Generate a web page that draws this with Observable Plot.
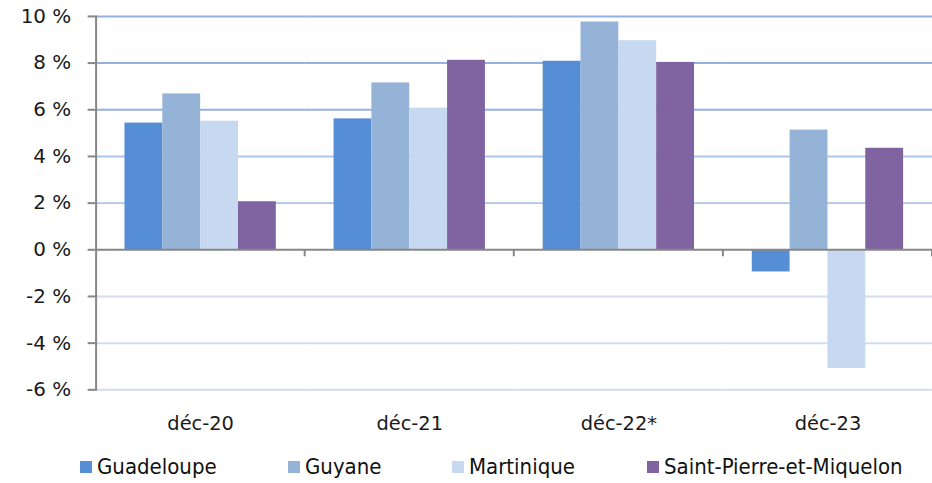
<!DOCTYPE html>
<html>
<head>
<meta charset="utf-8">
<script src="https://cdn.jsdelivr.net/npm/d3@7"></script>
<script src="https://cdn.jsdelivr.net/npm/@observablehq/plot@0.6"></script>
<style>
html, body { margin: 0; padding: 0; background: #fff; }
#wrap { position: relative; width: 932px; height: 483px; overflow: hidden; background: #fff; }
#chart { position: absolute; left: 0; top: 0; }
#legend { position: absolute; left: 0; top: 454px; width: 932px; height: 26px;
  font-family: "DejaVu Sans Condensed", "DejaVu Sans", sans-serif; font-size: 22px; color: #111; }
.item { position: absolute; top: 0; height: 26px; line-height: 26px; display: flex; align-items: center; white-space: nowrap; }
.sw { width: 12px; height: 12px; margin-right: 5px; flex: none; }
</style>
</head>
<body>
<div id="wrap"><div id="chart"></div><div id="legend"></div></div>
<script>
const categories = ["déc-20", "déc-21", "déc-22*", "déc-23"];
const series = ["Guadeloupe", "Guyane", "Martinique", "Saint-Pierre-et-Miquelon"];
const guadeloupe  = [5.43, 5.61, 8.08, -0.95];
const guyane      = [6.68, 7.15, 9.76, 5.13];
const martinique  = [5.51, 6.07, 8.96, -5.09];
const saintPierre = [2.06, 8.12, 8.03, 4.35];
const seriesColors = ["#558ED5", "#95B3D7", "#C6D9F1", "#8064A2"];
const yTicks = [-6, -4, -2, 0, 2, 4, 6, 8, 10];
const legendLeft = [80, 288, 452, 647];

const valuesBySeries = [guadeloupe, guyane, martinique, saintPierre];
const data = [];
categories.forEach((c, i) => series.forEach((s, j) => data.push({category: c, series: s, value: valuesBySeries[j][i]})));

const gridDark = yTicks.filter(d => d >= 6);
const gridMid = yTicks.filter(d => d > 0 && d < 6);
const gridLight = yTicks.filter(d => d < 0);

const chart = Plot.plot({
  width: 936,
  height: 440,
  marginLeft: 96,
  marginRight: 0,
  marginTop: 16,
  marginBottom: 49,
  style: {fontFamily: "DejaVu Sans, sans-serif", fontSize: "20px", color: "#1a1a1a", background: "white", overflow: "visible"},
  fx: {domain: categories, padding: 0, label: null},
  x: {domain: series, paddingInner: 0, paddingOuter: 0.763, axis: null},
  y: {domain: [-6, 10], axis: null},
  color: {domain: series, range: seriesColors},
  marks: [
    Plot.ruleY(gridDark, {stroke: "#93B1E3", strokeWidth: 2}),
    Plot.ruleY(gridMid, {stroke: "#ADC5EC", strokeWidth: 2}),
    Plot.ruleY(gridLight, {stroke: "#D0DDF3", strokeWidth: 2}),
    Plot.barY(data, {fx: "category", x: "series", y: "value", fill: "series"}),
    Plot.ruleY([0], {stroke: "#878787", strokeWidth: 2}),
    Plot.axisY({ticks: yTicks, tickFormat: d => d + " %", tickSize: 8, tickPadding: 17, stroke: "#878787", strokeWidth: 2, fontSize: 20, label: null}),
    Plot.frame({anchor: "left", facetAnchor: "left", stroke: "#878787", strokeWidth: 2}),
    Plot.axisFx({anchor: "bottom", tickSize: 0, tickPadding: 26, fontSize: 19.5, label: null})
  ]
});
document.getElementById("chart").appendChild(chart);

// category boundary ticks on the zero line, from the chart's own fx/y scales
const fx = chart.scale("fx");
const ys = chart.scale("y");
const y0 = ys.apply(0);
const g = d3.select(chart).append("g").attr("stroke", "#878787").attr("stroke-width", 2);
categories.forEach((c) => {
  const xb = fx.apply(c) + fx.bandwidth;
  g.append("line").attr("x1", xb).attr("x2", xb).attr("y1", y0).attr("y2", y0 + 7);
});

const legend = d3.select("#legend");
series.forEach((s, i) => {
  const it = legend.append("div").attr("class", "item").style("left", legendLeft[i] + "px");
  it.append("div").attr("class", "sw").style("background", seriesColors[i]);
  it.append("span").text(s);
});
</script>
</body>
</html>
